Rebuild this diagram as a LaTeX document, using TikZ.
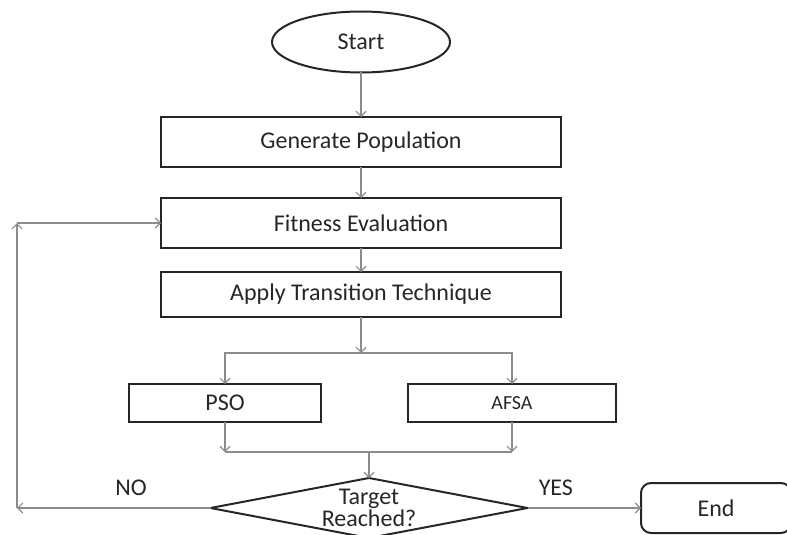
\documentclass[tikz,border=0pt]{standalone}
\usepackage{fontspec}
\setmainfont{Carlito}
\usetikzlibrary{shapes.geometric,arrows.meta}
\begin{document}
\begin{tikzpicture}[x=0.5pt,y=-0.5pt,inner sep=0pt,outer sep=0pt,
font=\fontsize{12}{11}\selectfont,text=black!85,
>={Straight Barb[length=2.5pt,width=5pt]},
conn/.style={draw=black!45,line width=0.6pt},
procblock/.style={draw=black!85,rectangle,line width=1pt,minimum width=200pt,minimum height=25pt},
termblock/.style={draw=black!85,ellipse,line width=1pt,minimum width=89pt,minimum height=30.5pt},
decblock/.style={draw=black!85,diamond,line width=1pt,minimum width=158.5pt,minimum height=30pt}]

\useasboundingbox (0,0) rectangle (787,535);

\draw (361,42) node[termblock] (start) {Start};
\draw (361,142) node[procblock] (gen) {Generate Population};
\draw (361,223) node[procblock] (fit) {Fitness Evaluation};
\draw (361,294.5) node[procblock,minimum height=22.5pt] (apply) {Apply Transition Technique};
\draw (225,403) node[procblock,minimum width=96pt,minimum height=19pt] (pso) {PSO};
\draw (512,403) node[procblock,minimum width=104pt,minimum height=19pt,font=\fontsize{10}{11}\selectfont] (afsa) {AFSA};
\draw (369,508) node[decblock,label={[align=center]center:Target\\Reached?}] (target) {};
\draw (716,508) node[procblock,rounded corners=5pt,minimum width=75pt,minimum height=25pt] (finish) {End};

\coordinate (split) at (361,353);
\coordinate (psoout) at (225,452);
\coordinate (afsaout) at (512,452);
\coordinate (merge) at (369,452);
\coordinate (nocorner) at (17,508);
\coordinate (upcorner) at (17,223);

\draw[conn,->] (start) -- (gen);
\draw[conn,->] (gen) -- (fit);
\draw[conn,->] (fit) -- (apply);
\draw[conn,->] (apply) -- (split);
\draw[conn,->] (split) -| (pso);
\draw[conn,->] (split) -| (afsa);
\draw[conn,->] (pso) -- (psoout);
\draw[conn,->] (afsa) -- (afsaout);
\draw[conn] (psoout) -- (afsaout);
\draw[conn,->] (merge) -- (target);
\draw[conn,->] (target) -- node[pos=.25,above=6pt] (yes) {YES} (finish);
\draw[conn,->] (target) -- node[pos=.41,above=6pt] (no) {NO} (nocorner);
\draw[conn,->] (nocorner) -- (upcorner);
\draw[conn,->] (upcorner) -- (fit);
\end{tikzpicture}
\end{document}
